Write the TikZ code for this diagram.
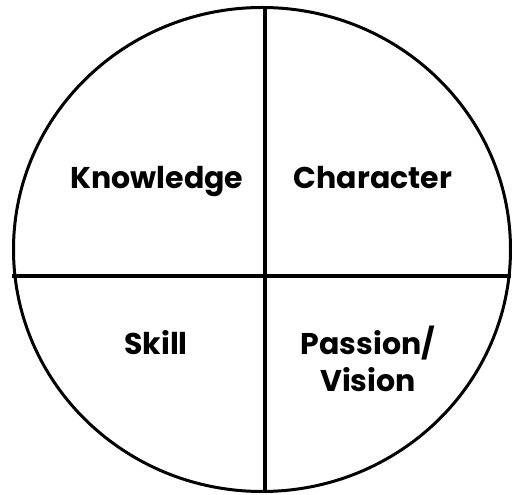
\documentclass[tikz,border=0pt]{standalone}
\usepackage{fontspec}
\setmainfont{Poppins}
\tikzset{quad/.style={font=\fontsize{30}{37}\selectfont\bfseries,align=center,inner sep=0pt,anchor=base}}
\begin{document}
\begin{tikzpicture}[x=1pt,y=1pt]
    \useasboundingbox (0,0) rectangle (512,495);
     \draw[black,line width=3pt] (262,245.5) ellipse (248.5 and 242);
     \draw[black,line width=4.5pt] (265,488) -- (265,3);
     \draw[black,line width=4.5pt] (12,219) -- (511,219);
     \node[quad] (know) at (157,306) {Knowledge};
     \node[quad] (char) at (373,306) {Character};
     \node[quad] (skill) at (156,140) {Skill};
     \node[quad] (pass) at (368,103) {Passion/\\Vision};
   \end{tikzpicture}
\end{document}
